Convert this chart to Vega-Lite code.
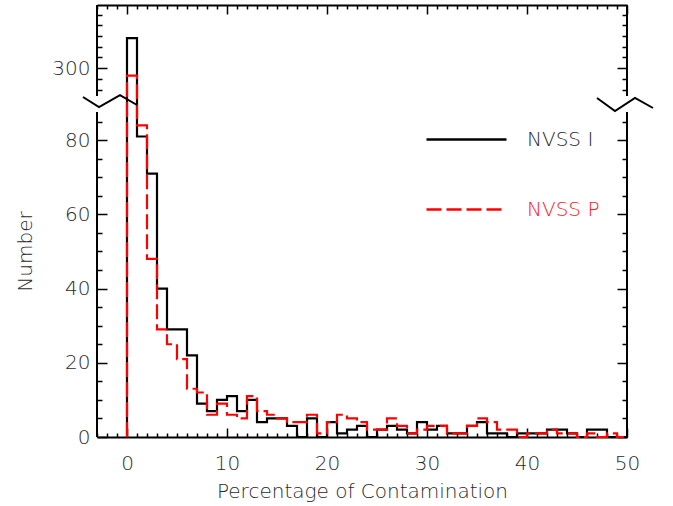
{
  "$schema": "https://vega.github.io/schema/vega-lite/v6.json",
  "width": 530,
  "height": 432,
  "autosize": "none",
  "padding": {"left": 97, "top": 5, "right": 46, "bottom": 69},
  "background": "white",
  "config": {"view": {"stroke": null}, "font": "DejaVu Sans"},
  "datasets": {
    "hist": [
      {"series": "NVSS I", "x": 0, "n": 0},
      {"series": "NVSS I", "x": 0, "n": 328},
      {"series": "NVSS I", "x": 1, "n": 81},
      {"series": "NVSS I", "x": 2, "n": 71},
      {"series": "NVSS I", "x": 3, "n": 40},
      {"series": "NVSS I", "x": 4, "n": 29},
      {"series": "NVSS I", "x": 5, "n": 29},
      {"series": "NVSS I", "x": 6, "n": 22},
      {"series": "NVSS I", "x": 7, "n": 9},
      {"series": "NVSS I", "x": 8, "n": 7},
      {"series": "NVSS I", "x": 9, "n": 10},
      {"series": "NVSS I", "x": 10, "n": 11},
      {"series": "NVSS I", "x": 11, "n": 7},
      {"series": "NVSS I", "x": 12, "n": 10},
      {"series": "NVSS I", "x": 13, "n": 4},
      {"series": "NVSS I", "x": 14, "n": 5},
      {"series": "NVSS I", "x": 15, "n": 5},
      {"series": "NVSS I", "x": 16, "n": 3},
      {"series": "NVSS I", "x": 17, "n": 0},
      {"series": "NVSS I", "x": 18, "n": 5},
      {"series": "NVSS I", "x": 19, "n": 0},
      {"series": "NVSS I", "x": 20, "n": 4},
      {"series": "NVSS I", "x": 21, "n": 1},
      {"series": "NVSS I", "x": 22, "n": 2},
      {"series": "NVSS I", "x": 23, "n": 3},
      {"series": "NVSS I", "x": 24, "n": 0},
      {"series": "NVSS I", "x": 25, "n": 2},
      {"series": "NVSS I", "x": 26, "n": 3},
      {"series": "NVSS I", "x": 27, "n": 2},
      {"series": "NVSS I", "x": 28, "n": 1},
      {"series": "NVSS I", "x": 29, "n": 4},
      {"series": "NVSS I", "x": 30, "n": 2},
      {"series": "NVSS I", "x": 31, "n": 3},
      {"series": "NVSS I", "x": 32, "n": 1},
      {"series": "NVSS I", "x": 33, "n": 1},
      {"series": "NVSS I", "x": 34, "n": 3},
      {"series": "NVSS I", "x": 35, "n": 4},
      {"series": "NVSS I", "x": 36, "n": 1},
      {"series": "NVSS I", "x": 37, "n": 1},
      {"series": "NVSS I", "x": 38, "n": 0},
      {"series": "NVSS I", "x": 39, "n": 1},
      {"series": "NVSS I", "x": 40, "n": 1},
      {"series": "NVSS I", "x": 41, "n": 1},
      {"series": "NVSS I", "x": 42, "n": 2},
      {"series": "NVSS I", "x": 43, "n": 2},
      {"series": "NVSS I", "x": 44, "n": 1},
      {"series": "NVSS I", "x": 45, "n": 0},
      {"series": "NVSS I", "x": 46, "n": 2},
      {"series": "NVSS I", "x": 47, "n": 2},
      {"series": "NVSS I", "x": 48, "n": 0},
      {"series": "NVSS I", "x": 49, "n": 0},
      {"series": "NVSS I", "x": 50, "n": 0},
      {"series": "NVSS P", "x": 0, "n": 0},
      {"series": "NVSS P", "x": 0, "n": 293},
      {"series": "NVSS P", "x": 1, "n": 84},
      {"series": "NVSS P", "x": 2, "n": 48},
      {"series": "NVSS P", "x": 3, "n": 29},
      {"series": "NVSS P", "x": 4, "n": 25},
      {"series": "NVSS P", "x": 5, "n": 21},
      {"series": "NVSS P", "x": 6, "n": 13},
      {"series": "NVSS P", "x": 7, "n": 12},
      {"series": "NVSS P", "x": 8, "n": 6},
      {"series": "NVSS P", "x": 9, "n": 9},
      {"series": "NVSS P", "x": 10, "n": 6},
      {"series": "NVSS P", "x": 11, "n": 5},
      {"series": "NVSS P", "x": 12, "n": 11},
      {"series": "NVSS P", "x": 13, "n": 7},
      {"series": "NVSS P", "x": 14, "n": 6},
      {"series": "NVSS P", "x": 15, "n": 5},
      {"series": "NVSS P", "x": 16, "n": 4},
      {"series": "NVSS P", "x": 17, "n": 4},
      {"series": "NVSS P", "x": 18, "n": 6},
      {"series": "NVSS P", "x": 19, "n": 1},
      {"series": "NVSS P", "x": 20, "n": 4},
      {"series": "NVSS P", "x": 21, "n": 6},
      {"series": "NVSS P", "x": 22, "n": 5},
      {"series": "NVSS P", "x": 23, "n": 4},
      {"series": "NVSS P", "x": 24, "n": 2},
      {"series": "NVSS P", "x": 25, "n": 2},
      {"series": "NVSS P", "x": 26, "n": 5},
      {"series": "NVSS P", "x": 27, "n": 3},
      {"series": "NVSS P", "x": 28, "n": 1},
      {"series": "NVSS P", "x": 29, "n": 2},
      {"series": "NVSS P", "x": 30, "n": 3},
      {"series": "NVSS P", "x": 31, "n": 3},
      {"series": "NVSS P", "x": 32, "n": 1},
      {"series": "NVSS P", "x": 33, "n": 1},
      {"series": "NVSS P", "x": 34, "n": 3},
      {"series": "NVSS P", "x": 35, "n": 5},
      {"series": "NVSS P", "x": 36, "n": 4},
      {"series": "NVSS P", "x": 37, "n": 2},
      {"series": "NVSS P", "x": 38, "n": 2},
      {"series": "NVSS P", "x": 39, "n": 0},
      {"series": "NVSS P", "x": 40, "n": 1},
      {"series": "NVSS P", "x": 41, "n": 1},
      {"series": "NVSS P", "x": 42, "n": 2},
      {"series": "NVSS P", "x": 43, "n": 1},
      {"series": "NVSS P", "x": 44, "n": 1},
      {"series": "NVSS P", "x": 45, "n": 0},
      {"series": "NVSS P", "x": 46, "n": 1},
      {"series": "NVSS P", "x": 47, "n": 0},
      {"series": "NVSS P", "x": 48, "n": 1},
      {"series": "NVSS P", "x": 49, "n": 0},
      {"series": "NVSS P", "x": 50, "n": 0}
    ],
    "breaks": [
      {"side": "left", "x": -4.4, "y": 262.4},
      {"side": "left", "x": -2.8, "y": 145.9},
      {"side": "left", "x": -0.7, "y": 274.9},
      {"side": "left", "x": 1.0, "y": 169.2},
      {"side": "right", "x": 47.0, "y": 250.7},
      {"side": "right", "x": 48.8, "y": 99.2},
      {"side": "right", "x": 50.8, "y": 250.7},
      {"side": "right", "x": 52.6, "y": 134.2}
    ]
  },
  "layer": [
    {
      "data": {"name": "hist"},
      "mark": {"type": "line", "interpolate": "step-after", "strokeWidth": 2.2},
      "encoding": {
        "x": {
          "field": "x", "type": "quantitative",
          "scale": {"domain": [-3, 50], "nice": false, "zero": false},
          "axis": {
            "orient": "bottom",
            "values": [-3,-2,-1,0,1,2,3,4,5,6,7,8,9,10,11,12,13,14,15,16,17,18,19,20,21,22,23,24,25,26,27,28,29,30,31,32,33,34,35,36,37,38,39,40,41,42,43,44,45,46,47,48,49,50],
            "tickSize": {"condition": {"test": "datum.value % 10 === 0", "value": -9}, "value": -4},
            "labelExpr": "datum.value % 10 === 0 ? datum.label : ''",
            "grid": false,
            "domain": true, "domainColor": "#000000", "domainWidth": 2,
            "tickColor": "#000000", "tickWidth": 1.5,
            "labelFontSize": 20, "labelColor": "#2a2a2a", "labelFont": "DejaVu Sans", "labelFontWeight": 300,
            "labelPadding": 25, "labelFlush": false, "labelOverlap": false,
            "title": "Percentage of Contamination",
            "titleFontSize": 20, "titleFontWeight": 300, "titleColor": "#2a2a2a", "titleFont": "DejaVu Sans",
            "titleY": 54, "titleBaseline": "middle"
          }
        },
        "y": {
          "field": "n", "type": "quantitative",
          "scale": {"domain": [0, 87.6, 274, 359], "range": [432, 107, 91, 0], "nice": false, "zero": false},
          "axis": {
            "orient": "left",
            "values": [0,5,10,15,20,25,30,35,40,45,50,55,60,65,70,75,80,85,280,290,300,310,320,330,340,350],
            "tickSize": {"condition": {"test": "(datum.value % 20 === 0 && datum.value < 100) || datum.value === 300", "value": -10}, "value": -5},
            "labelExpr": "(datum.value % 20 === 0 && datum.value < 100) || datum.value === 300 ? datum.label : ''",
            "grid": false, "domain": false,
            "tickColor": "#000000", "tickWidth": 1.5,
            "labelFontSize": 20, "labelColor": "#2a2a2a", "labelFont": "DejaVu Sans", "labelFontWeight": 300,
            "labelPadding": 17, "labelFlush": false, "labelOverlap": false,
            "title": "Number",
            "titleFontSize": 20, "titleFontWeight": 300, "titleColor": "#2a2a2a", "titleFont": "DejaVu Sans",
            "titleX": -72, "titleY": 246, "titleBaseline": "middle", "titleAngle": -90
          }
        },
        "color": {
          "field": "series", "type": "nominal",
          "scale": {"domain": ["NVSS I", "NVSS P"], "range": ["#000000", "#ff0000"]},
          "legend": {
            "title": null, "orient": "none", "legendX": 328, "legendY": 93,
            "symbolType": "stroke", "symbolSize": 6400, "symbolStrokeWidth": 2.5,
            "labelFontSize": 20, "labelFont": "DejaVu Sans", "labelFontWeight": 300, "labelOffset": 19,
            "rowPadding": 18, "padding": 0, "labelColor": "#2a2a2a",
            "encode": {"labels": {"update": {"fill": {"signal": "datum.label === 'NVSS P' ? '#ff1a1a' : '#2a2a2a'"}}}}
          }
        },
        "strokeDash": {
          "field": "series", "type": "nominal",
          "scale": {"domain": ["NVSS I", "NVSS P"], "range": [[1, 0], [15, 5]]},
          "legend": {
            "title": null, "orient": "none", "legendX": 328, "legendY": 93,
            "symbolType": "stroke", "symbolSize": 6400, "symbolStrokeWidth": 2.5,
            "labelFontSize": 20, "labelFont": "DejaVu Sans", "labelFontWeight": 300, "labelOffset": 19,
            "rowPadding": 18, "padding": 0, "labelColor": "#2a2a2a",
            "encode": {"labels": {"update": {"fill": {"signal": "datum.label === 'NVSS P' ? '#ff1a1a' : '#2a2a2a'"}}}}
          }
        }
      }
    },
    {
      "data": {"values": [{}]},
      "mark": {"type": "rule", "color": "#000000", "strokeWidth": 2},
      "encoding": {
        "x": {
          "datum": -3, "type": "quantitative",
          "axis": {
            "orient": "top",
            "values": [-3,-2,-1,0,1,2,3,4,5,6,7,8,9,10,11,12,13,14,15,16,17,18,19,20,21,22,23,24,25,26,27,28,29,30,31,32,33,34,35,36,37,38,39,40,41,42,43,44,45,46,47,48,49,50],
            "tickSize": {"condition": {"test": "datum.value % 10 === 0", "value": -9}, "value": -4},
            "labels": false, "grid": false, "title": null,
            "domain": true, "domainColor": "#000000", "domainWidth": 2,
            "tickColor": "#000000", "tickWidth": 1.5
          }
        },
        "y": {
          "datum": 0, "type": "quantitative",
          "axis": {
            "orient": "right",
            "values": [0,5,10,15,20,25,30,35,40,45,50,55,60,65,70,75,80,85,280,290,300,310,320,330,340,350],
            "tickSize": {"condition": {"test": "(datum.value % 20 === 0 && datum.value < 100) || datum.value === 300", "value": -10}, "value": -5},
            "labels": false, "grid": false, "title": null, "domain": false,
            "tickColor": "#000000", "tickWidth": 1.5
          }
        },
        "y2": {"datum": 87.6}
      }
    },
    {
      "data": {"values": [{}]},
      "mark": {"type": "rule", "color": "#000000", "strokeWidth": 2},
      "encoding": {
        "x": {"datum": -3, "type": "quantitative", "axis": null},
        "y": {"datum": 274, "type": "quantitative", "axis": null},
        "y2": {"datum": 359}
      }
    },
    {
      "data": {"values": [{}]},
      "mark": {"type": "rule", "color": "#000000", "strokeWidth": 2},
      "encoding": {
        "x": {"datum": 50, "type": "quantitative", "axis": null},
        "y": {"datum": 0, "type": "quantitative", "axis": null},
        "y2": {"datum": 87.6}
      }
    },
    {
      "data": {"values": [{}]},
      "mark": {"type": "rule", "color": "#000000", "strokeWidth": 2},
      "encoding": {
        "x": {"datum": 50, "type": "quantitative", "axis": null},
        "y": {"datum": 274, "type": "quantitative", "axis": null},
        "y2": {"datum": 359}
      }
    },
    {
      "data": {"name": "breaks"},
      "mark": {"type": "line", "color": "#000000", "strokeWidth": 2},
      "encoding": {
        "x": {"field": "x", "type": "quantitative", "axis": null},
        "y": {"field": "y", "type": "quantitative", "axis": null},
        "detail": {"field": "side", "type": "nominal"}
      }
    }
  ],
  "resolve": {"axis": {"x": "independent", "y": "independent"}}
}
